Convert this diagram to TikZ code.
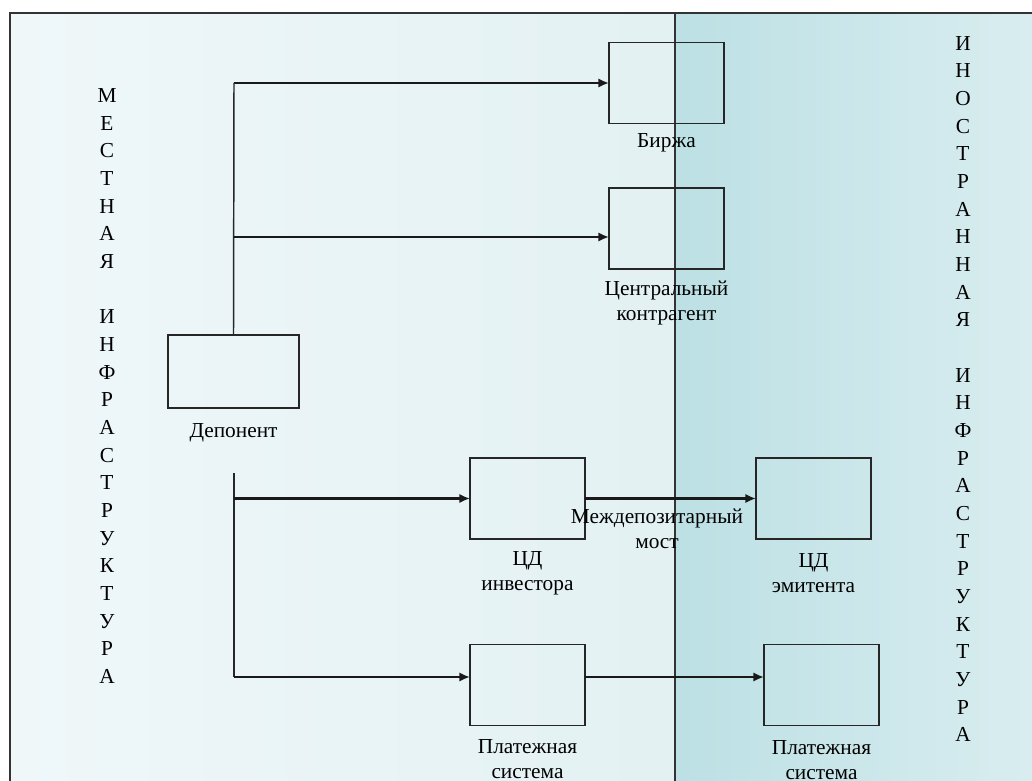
\documentclass[tikz,border=0pt]{standalone}
\usepackage{fontspec}
\setmainfont{Liberation Serif}
\usetikzlibrary{arrows.meta}
\definecolor{framegray}{HTML}{333333}
\definecolor{localA}{HTML}{EFF7F9}
\definecolor{localB}{HTML}{E3F1F3}
\definecolor{foreignA}{HTML}{BCE0E4}
\definecolor{foreignB}{HTML}{D9EDF0}
\begin{document}
\begin{tikzpicture}[x=0.75pt,y=-0.75pt,
  box/.style={draw=black!85,line width=1.1pt,rectangle,inner sep=0pt,outer sep=0pt,
    minimum width=86.25pt,minimum height=60.75pt},
  lbl/.style={align=center,inner sep=0pt,font=\fontsize{16}{19}\selectfont},
  vlbl/.style={align=center,inner sep=0pt,font=\fontsize{16}{20.75}\selectfont},
  trunk/.style={draw=black!85,line width=1.1pt},
  flow/.style={draw=black!90,line width=2.2pt,-{Latex[length=8pt,width=7pt]}}]
\useasboundingbox (0,0) rectangle (1032,781);
% two zones: local (left) and foreign (right)
\shade[left color=localA,right color=localB] (10,13) rectangle (675,781);
\shade[left color=foreignA,right color=foreignB] (675,13) rectangle (1032,781);
\draw[framegray,line width=1.2pt] (10,781) -- (10,13) -- (1032,13);
\draw[framegray,line width=1pt] (675,13) -- (675,781);

% zone captions, one letter per line
\node[vlbl] (local) at (107,386) {М\\Е\\С\\Т\\Н\\А\\Я\\[20.75pt]И\\Н\\Ф\\Р\\А\\С\\Т\\Р\\У\\К\\Т\\У\\Р\\А};
\node[vlbl] (foreign) at (963,389) {И\\Н\\О\\С\\Т\\Р\\А\\Н\\Н\\А\\Я\\[20.75pt]И\\Н\\Ф\\Р\\А\\С\\Т\\Р\\У\\К\\Т\\У\\Р\\А};

% boxes
\node[box,minimum width=98.25pt,minimum height=54.75pt] (dep) at (233.5,371.5) {};
\node[box] (birzha) at (666.5,83) {};
\node[box] (ck) at (666.5,228.5) {};
\node[box] (cdi) at (527.5,498.5) {};
\node[box] (psl) at (527.5,685) {};
\node[box] (cde) at (813.5,498.5) {};
\node[box] (psr) at (821.5,685) {};

% box captions
\node[lbl] (depL) at (233.5,433) {Депонент};
\node[lbl] (birzhaL) at (666.5,143) {Биржа};
\node[lbl] (ckL) at (666.5,303) {Центральный\\контрагент};
\node[lbl] (cdiL) at (527.5,573) {ЦД\\инвестора};
\node[lbl] (pslL) at (527.5,759) {Платежная\\система};
\node[lbl] (cdeL) at (813.5,573) {ЦД\\эмитента};
\node[lbl] (psrL) at (821.5,760) {Платежная\\система};
\node[lbl] (bridge) at (657,529) {Междепозитарный\\мост};

% connectors
\coordinate (upTop) at (234,83);
\coordinate (upMid) at (234,237);
\coordinate (lowTop) at (234,473);
\coordinate (lowMid) at (234,498.5);
\coordinate (lowBot) at (234,677);
\draw[trunk] (dep.north) -- (upTop);
\draw[trunk] (lowTop) -- (lowBot);
\draw[flow] (upTop) -- (birzha.west);
\draw[flow] (upMid) -- (ck.west |- upMid);
\draw[flow] (lowMid) -- (cdi.west);
\draw[flow] (lowBot) -- (psl.west |- lowBot);
\draw[flow] (cdi.east) -- (cde.west);
\draw[flow] (psl.east |- lowBot) -- (psr.west |- lowBot);
\end{tikzpicture}
\end{document}
